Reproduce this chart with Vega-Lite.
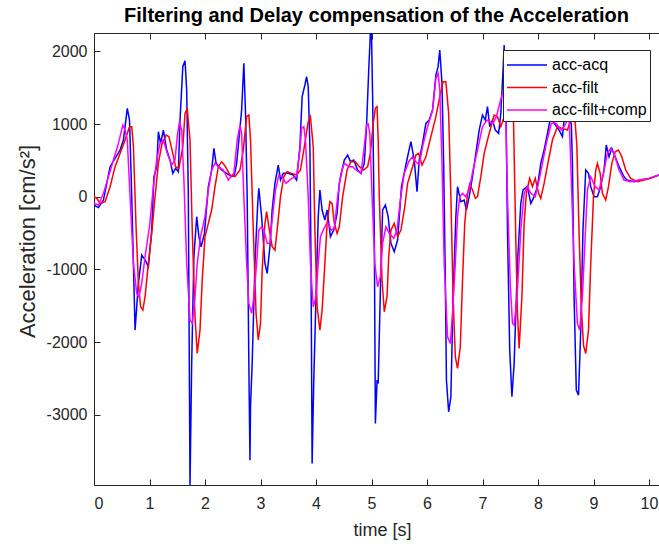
{
"$schema": "https://vega.github.io/schema/vega-lite/v6.json",
"width": 565,
"height": 452,
"autosize": {"type": "none"},
"padding": {"left": 94, "top": 33, "right": 0, "bottom": 62},
"background": "white",
"title": {"text": "Filtering and Delay compensation of the Acceleration", "fontSize": 20, "fontWeight": "bold", "font": "Liberation Sans", "color": "black", "anchor": "middle", "offset": 11, "baseline": "alphabetic", "dy": 20},
"config": {
  "view": {"stroke": "#262626", "strokeWidth": 1},
  "axis": {"grid": false, "domain": false, "tickColor": "#262626", "labelColor": "#262626", "titleColor": "#262626", "labelFont": "Liberation Sans", "titleFont": "Liberation Sans", "labelFontSize": 16, "titleFontSize": 18, "titleFontWeight": "normal", "tickSize": -6, "tickWidth": 1},
  "legend": {"rowPadding": 2.5}
},
"datasets": {"d": [
{"t":0,"v":-115,"s":"acc-acq"},{"t":0.08,"v":-150,"s":"acc-acq"},{"t":0.17,"v":-46,"s":"acc-acq"},{"t":0.29,"v":413,"s":"acc-acq"},{"t":0.38,"v":528,"s":"acc-acq"},{"t":0.47,"v":642,"s":"acc-acq"},{"t":0.53,"v":780,"s":"acc-acq"},{"t":0.6,"v":1216,"s":"acc-acq"},{"t":0.64,"v":1055,"s":"acc-acq"},{"t":0.68,"v":0,"s":"acc-acq"},{"t":0.74,"v":-1835,"s":"acc-acq"},{"t":0.8,"v":-1193,"s":"acc-acq"},{"t":0.86,"v":-803,"s":"acc-acq"},{"t":0.92,"v":-870,"s":"acc-acq"},{"t":0.98,"v":-963,"s":"acc-acq"},{"t":1.04,"v":-459,"s":"acc-acq"},{"t":1.08,"v":275,"s":"acc-acq"},{"t":1.13,"v":413,"s":"acc-acq"},{"t":1.16,"v":894,"s":"acc-acq"},{"t":1.2,"v":734,"s":"acc-acq"},{"t":1.25,"v":917,"s":"acc-acq"},{"t":1.31,"v":642,"s":"acc-acq"},{"t":1.37,"v":505,"s":"acc-acq"},{"t":1.42,"v":321,"s":"acc-acq"},{"t":1.47,"v":390,"s":"acc-acq"},{"t":1.52,"v":344,"s":"acc-acq"},{"t":1.55,"v":1055,"s":"acc-acq"},{"t":1.6,"v":1789,"s":"acc-acq"},{"t":1.64,"v":1871,"s":"acc-acq"},{"t":1.67,"v":1468,"s":"acc-acq"},{"t":1.7,"v":0,"s":"acc-acq"},{"t":1.73,"v":-3966,"s":"acc-acq"},{"t":1.76,"v":-2293,"s":"acc-acq"},{"t":1.8,"v":-826,"s":"acc-acq"},{"t":1.85,"v":-275,"s":"acc-acq"},{"t":1.89,"v":-550,"s":"acc-acq"},{"t":1.93,"v":-688,"s":"acc-acq"},{"t":1.99,"v":-505,"s":"acc-acq"},{"t":2.06,"v":138,"s":"acc-acq"},{"t":2.12,"v":367,"s":"acc-acq"},{"t":2.16,"v":665,"s":"acc-acq"},{"t":2.2,"v":459,"s":"acc-acq"},{"t":2.3,"v":367,"s":"acc-acq"},{"t":2.39,"v":321,"s":"acc-acq"},{"t":2.48,"v":275,"s":"acc-acq"},{"t":2.53,"v":300,"s":"acc-acq"},{"t":2.57,"v":459,"s":"acc-acq"},{"t":2.61,"v":780,"s":"acc-acq"},{"t":2.66,"v":1193,"s":"acc-acq"},{"t":2.7,"v":1835,"s":"acc-acq"},{"t":2.73,"v":1147,"s":"acc-acq"},{"t":2.76,"v":0,"s":"acc-acq"},{"t":2.79,"v":-2293,"s":"acc-acq"},{"t":2.81,"v":-3624,"s":"acc-acq"},{"t":2.82,"v":-2890,"s":"acc-acq"},{"t":2.85,"v":-2293,"s":"acc-acq"},{"t":2.9,"v":-917,"s":"acc-acq"},{"t":2.95,"v":-92,"s":"acc-acq"},{"t":2.97,"v":115,"s":"acc-acq"},{"t":3.02,"v":-275,"s":"acc-acq"},{"t":3.08,"v":-917,"s":"acc-acq"},{"t":3.12,"v":-1055,"s":"acc-acq"},{"t":3.17,"v":-688,"s":"acc-acq"},{"t":3.21,"v":-183,"s":"acc-acq"},{"t":3.26,"v":183,"s":"acc-acq"},{"t":3.32,"v":436,"s":"acc-acq"},{"t":3.36,"v":229,"s":"acc-acq"},{"t":3.41,"v":321,"s":"acc-acq"},{"t":3.5,"v":321,"s":"acc-acq"},{"t":3.59,"v":298,"s":"acc-acq"},{"t":3.65,"v":229,"s":"acc-acq"},{"t":3.71,"v":688,"s":"acc-acq"},{"t":3.75,"v":1376,"s":"acc-acq"},{"t":3.8,"v":1537,"s":"acc-acq"},{"t":3.83,"v":1651,"s":"acc-acq"},{"t":3.86,"v":1514,"s":"acc-acq"},{"t":3.89,"v":688,"s":"acc-acq"},{"t":3.91,"v":-917,"s":"acc-acq"},{"t":3.93,"v":-3670,"s":"acc-acq"},{"t":3.96,"v":-2523,"s":"acc-acq"},{"t":4.0,"v":-1376,"s":"acc-acq"},{"t":4.04,"v":-275,"s":"acc-acq"},{"t":4.07,"v":92,"s":"acc-acq"},{"t":4.11,"v":-183,"s":"acc-acq"},{"t":4.16,"v":-321,"s":"acc-acq"},{"t":4.2,"v":-183,"s":"acc-acq"},{"t":4.26,"v":-550,"s":"acc-acq"},{"t":4.32,"v":-459,"s":"acc-acq"},{"t":4.38,"v":-229,"s":"acc-acq"},{"t":4.42,"v":183,"s":"acc-acq"},{"t":4.47,"v":367,"s":"acc-acq"},{"t":4.51,"v":505,"s":"acc-acq"},{"t":4.57,"v":573,"s":"acc-acq"},{"t":4.62,"v":482,"s":"acc-acq"},{"t":4.68,"v":505,"s":"acc-acq"},{"t":4.75,"v":367,"s":"acc-acq"},{"t":4.81,"v":321,"s":"acc-acq"},{"t":4.87,"v":459,"s":"acc-acq"},{"t":4.91,"v":963,"s":"acc-acq"},{"t":4.95,"v":1743,"s":"acc-acq"},{"t":4.98,"v":2252,"s":"acc-acq"},{"t":5.0,"v":2252,"s":"acc-acq"},{"t":5.02,"v":1376,"s":"acc-acq"},{"t":5.05,"v":-459,"s":"acc-acq"},{"t":5.07,"v":-3119,"s":"acc-acq"},{"t":5.1,"v":-2523,"s":"acc-acq"},{"t":5.12,"v":-2569,"s":"acc-acq"},{"t":5.16,"v":-1284,"s":"acc-acq"},{"t":5.2,"v":-183,"s":"acc-acq"},{"t":5.25,"v":-115,"s":"acc-acq"},{"t":5.3,"v":-275,"s":"acc-acq"},{"t":5.35,"v":-642,"s":"acc-acq"},{"t":5.41,"v":-757,"s":"acc-acq"},{"t":5.47,"v":-596,"s":"acc-acq"},{"t":5.54,"v":138,"s":"acc-acq"},{"t":5.6,"v":367,"s":"acc-acq"},{"t":5.65,"v":550,"s":"acc-acq"},{"t":5.71,"v":757,"s":"acc-acq"},{"t":5.77,"v":505,"s":"acc-acq"},{"t":5.82,"v":69,"s":"acc-acq"},{"t":5.86,"v":505,"s":"acc-acq"},{"t":5.92,"v":734,"s":"acc-acq"},{"t":5.98,"v":1009,"s":"acc-acq"},{"t":6.04,"v":1055,"s":"acc-acq"},{"t":6.1,"v":1193,"s":"acc-acq"},{"t":6.16,"v":1674,"s":"acc-acq"},{"t":6.2,"v":1789,"s":"acc-acq"},{"t":6.23,"v":2018,"s":"acc-acq"},{"t":6.27,"v":1560,"s":"acc-acq"},{"t":6.3,"v":459,"s":"acc-acq"},{"t":6.33,"v":-1147,"s":"acc-acq"},{"t":6.35,"v":-2523,"s":"acc-acq"},{"t":6.39,"v":-2959,"s":"acc-acq"},{"t":6.43,"v":-2752,"s":"acc-acq"},{"t":6.47,"v":-1376,"s":"acc-acq"},{"t":6.52,"v":-275,"s":"acc-acq"},{"t":6.55,"v":138,"s":"acc-acq"},{"t":6.61,"v":-69,"s":"acc-acq"},{"t":6.67,"v":-46,"s":"acc-acq"},{"t":6.71,"v":-183,"s":"acc-acq"},{"t":6.76,"v":0,"s":"acc-acq"},{"t":6.82,"v":275,"s":"acc-acq"},{"t":6.88,"v":596,"s":"acc-acq"},{"t":6.94,"v":917,"s":"acc-acq"},{"t":7.0,"v":1124,"s":"acc-acq"},{"t":7.05,"v":1055,"s":"acc-acq"},{"t":7.09,"v":1239,"s":"acc-acq"},{"t":7.13,"v":963,"s":"acc-acq"},{"t":7.18,"v":1055,"s":"acc-acq"},{"t":7.23,"v":917,"s":"acc-acq"},{"t":7.29,"v":872,"s":"acc-acq"},{"t":7.33,"v":1147,"s":"acc-acq"},{"t":7.37,"v":1743,"s":"acc-acq"},{"t":7.39,"v":2087,"s":"acc-acq"},{"t":7.42,"v":1376,"s":"acc-acq"},{"t":7.45,"v":-459,"s":"acc-acq"},{"t":7.49,"v":-2100,"s":"acc-acq"},{"t":7.53,"v":-2752,"s":"acc-acq"},{"t":7.57,"v":-2293,"s":"acc-acq"},{"t":7.63,"v":-917,"s":"acc-acq"},{"t":7.69,"v":-92,"s":"acc-acq"},{"t":7.73,"v":92,"s":"acc-acq"},{"t":7.81,"v":138,"s":"acc-acq"},{"t":7.87,"v":-92,"s":"acc-acq"},{"t":7.93,"v":0,"s":"acc-acq"},{"t":7.99,"v":138,"s":"acc-acq"},{"t":8.05,"v":459,"s":"acc-acq"},{"t":8.11,"v":642,"s":"acc-acq"},{"t":8.17,"v":872,"s":"acc-acq"},{"t":8.23,"v":1101,"s":"acc-acq"},{"t":8.3,"v":1000,"s":"acc-acq"},{"t":8.38,"v":917,"s":"acc-acq"},{"t":8.44,"v":826,"s":"acc-acq"},{"t":8.47,"v":1055,"s":"acc-acq"},{"t":8.55,"v":1100,"s":"acc-acq"},{"t":8.6,"v":1000,"s":"acc-acq"},{"t":8.62,"v":459,"s":"acc-acq"},{"t":8.65,"v":-1376,"s":"acc-acq"},{"t":8.69,"v":-2660,"s":"acc-acq"},{"t":8.73,"v":-2729,"s":"acc-acq"},{"t":8.77,"v":-1835,"s":"acc-acq"},{"t":8.81,"v":-459,"s":"acc-acq"},{"t":8.86,"v":367,"s":"acc-acq"},{"t":8.91,"v":321,"s":"acc-acq"},{"t":8.95,"v":138,"s":"acc-acq"},{"t":9.01,"v":0,"s":"acc-acq"},{"t":9.07,"v":0,"s":"acc-acq"},{"t":9.13,"v":138,"s":"acc-acq"},{"t":9.19,"v":367,"s":"acc-acq"},{"t":9.23,"v":711,"s":"acc-acq"},{"t":9.28,"v":550,"s":"acc-acq"},{"t":9.33,"v":665,"s":"acc-acq"},{"t":9.39,"v":550,"s":"acc-acq"},{"t":9.46,"v":413,"s":"acc-acq"},{"t":9.55,"v":275,"s":"acc-acq"},{"t":9.6,"v":229,"s":"acc-acq"},{"t":9.73,"v":206,"s":"acc-acq"},{"t":9.85,"v":229,"s":"acc-acq"},{"t":10.0,"v":252,"s":"acc-acq"},{"t":10.18,"v":300,"s":"acc-acq"},
{"t":0,"v":0,"s":"acc-filt"},{"t":0.05,"v":-23,"s":"acc-filt"},{"t":0.11,"v":-92,"s":"acc-filt"},{"t":0.2,"v":-69,"s":"acc-filt"},{"t":0.29,"v":138,"s":"acc-filt"},{"t":0.38,"v":413,"s":"acc-filt"},{"t":0.47,"v":596,"s":"acc-filt"},{"t":0.56,"v":780,"s":"acc-filt"},{"t":0.64,"v":963,"s":"acc-filt"},{"t":0.68,"v":963,"s":"acc-filt"},{"t":0.71,"v":688,"s":"acc-filt"},{"t":0.76,"v":-459,"s":"acc-filt"},{"t":0.8,"v":-1193,"s":"acc-filt"},{"t":0.84,"v":-1514,"s":"acc-filt"},{"t":0.88,"v":-1560,"s":"acc-filt"},{"t":0.92,"v":-1376,"s":"acc-filt"},{"t":0.98,"v":-917,"s":"acc-filt"},{"t":1.04,"v":-505,"s":"acc-filt"},{"t":1.1,"v":0,"s":"acc-filt"},{"t":1.16,"v":459,"s":"acc-filt"},{"t":1.22,"v":711,"s":"acc-filt"},{"t":1.3,"v":849,"s":"acc-filt"},{"t":1.35,"v":826,"s":"acc-filt"},{"t":1.42,"v":596,"s":"acc-filt"},{"t":1.47,"v":413,"s":"acc-filt"},{"t":1.53,"v":390,"s":"acc-filt"},{"t":1.6,"v":688,"s":"acc-filt"},{"t":1.64,"v":1147,"s":"acc-filt"},{"t":1.68,"v":1216,"s":"acc-filt"},{"t":1.73,"v":780,"s":"acc-filt"},{"t":1.77,"v":-459,"s":"acc-filt"},{"t":1.82,"v":-1651,"s":"acc-filt"},{"t":1.86,"v":-2156,"s":"acc-filt"},{"t":1.91,"v":-1835,"s":"acc-filt"},{"t":1.95,"v":-1147,"s":"acc-filt"},{"t":2.0,"v":-550,"s":"acc-filt"},{"t":2.06,"v":-367,"s":"acc-filt"},{"t":2.12,"v":-183,"s":"acc-filt"},{"t":2.18,"v":138,"s":"acc-filt"},{"t":2.24,"v":413,"s":"acc-filt"},{"t":2.3,"v":482,"s":"acc-filt"},{"t":2.37,"v":413,"s":"acc-filt"},{"t":2.45,"v":298,"s":"acc-filt"},{"t":2.54,"v":275,"s":"acc-filt"},{"t":2.63,"v":367,"s":"acc-filt"},{"t":2.69,"v":642,"s":"acc-filt"},{"t":2.75,"v":1101,"s":"acc-filt"},{"t":2.79,"v":1124,"s":"acc-filt"},{"t":2.82,"v":780,"s":"acc-filt"},{"t":2.87,"v":-459,"s":"acc-filt"},{"t":2.92,"v":-1605,"s":"acc-filt"},{"t":2.96,"v":-1972,"s":"acc-filt"},{"t":3.0,"v":-1743,"s":"acc-filt"},{"t":3.03,"v":-1009,"s":"acc-filt"},{"t":3.08,"v":-367,"s":"acc-filt"},{"t":3.11,"v":-206,"s":"acc-filt"},{"t":3.15,"v":-413,"s":"acc-filt"},{"t":3.21,"v":-688,"s":"acc-filt"},{"t":3.26,"v":-734,"s":"acc-filt"},{"t":3.3,"v":-459,"s":"acc-filt"},{"t":3.36,"v":0,"s":"acc-filt"},{"t":3.42,"v":275,"s":"acc-filt"},{"t":3.48,"v":344,"s":"acc-filt"},{"t":3.56,"v":321,"s":"acc-filt"},{"t":3.65,"v":298,"s":"acc-filt"},{"t":3.72,"v":367,"s":"acc-filt"},{"t":3.79,"v":688,"s":"acc-filt"},{"t":3.86,"v":1032,"s":"acc-filt"},{"t":3.9,"v":1101,"s":"acc-filt"},{"t":3.95,"v":688,"s":"acc-filt"},{"t":3.98,"v":-459,"s":"acc-filt"},{"t":4.02,"v":-1514,"s":"acc-filt"},{"t":4.07,"v":-1835,"s":"acc-filt"},{"t":4.11,"v":-1560,"s":"acc-filt"},{"t":4.16,"v":-917,"s":"acc-filt"},{"t":4.2,"v":-367,"s":"acc-filt"},{"t":4.25,"v":-69,"s":"acc-filt"},{"t":4.29,"v":-92,"s":"acc-filt"},{"t":4.33,"v":-367,"s":"acc-filt"},{"t":4.38,"v":-505,"s":"acc-filt"},{"t":4.42,"v":-413,"s":"acc-filt"},{"t":4.48,"v":0,"s":"acc-filt"},{"t":4.56,"v":367,"s":"acc-filt"},{"t":4.63,"v":482,"s":"acc-filt"},{"t":4.71,"v":482,"s":"acc-filt"},{"t":4.78,"v":413,"s":"acc-filt"},{"t":4.86,"v":367,"s":"acc-filt"},{"t":4.93,"v":413,"s":"acc-filt"},{"t":4.98,"v":600,"s":"acc-filt"},{"t":5.03,"v":1000,"s":"acc-filt"},{"t":5.07,"v":1220,"s":"acc-filt"},{"t":5.1,"v":1239,"s":"acc-filt"},{"t":5.12,"v":800,"s":"acc-filt"},{"t":5.14,"v":0,"s":"acc-filt"},{"t":5.19,"v":-1147,"s":"acc-filt"},{"t":5.23,"v":-1583,"s":"acc-filt"},{"t":5.28,"v":-1376,"s":"acc-filt"},{"t":5.31,"v":-826,"s":"acc-filt"},{"t":5.35,"v":-459,"s":"acc-filt"},{"t":5.41,"v":-367,"s":"acc-filt"},{"t":5.47,"v":-550,"s":"acc-filt"},{"t":5.53,"v":-459,"s":"acc-filt"},{"t":5.6,"v":-138,"s":"acc-filt"},{"t":5.65,"v":183,"s":"acc-filt"},{"t":5.74,"v":413,"s":"acc-filt"},{"t":5.8,"v":573,"s":"acc-filt"},{"t":5.85,"v":596,"s":"acc-filt"},{"t":5.91,"v":436,"s":"acc-filt"},{"t":5.98,"v":550,"s":"acc-filt"},{"t":6.07,"v":826,"s":"acc-filt"},{"t":6.16,"v":1101,"s":"acc-filt"},{"t":6.23,"v":1376,"s":"acc-filt"},{"t":6.29,"v":1583,"s":"acc-filt"},{"t":6.34,"v":1583,"s":"acc-filt"},{"t":6.39,"v":1147,"s":"acc-filt"},{"t":6.43,"v":0,"s":"acc-filt"},{"t":6.47,"v":-1376,"s":"acc-filt"},{"t":6.51,"v":-2202,"s":"acc-filt"},{"t":6.55,"v":-2362,"s":"acc-filt"},{"t":6.6,"v":-2064,"s":"acc-filt"},{"t":6.64,"v":-1147,"s":"acc-filt"},{"t":6.68,"v":-367,"s":"acc-filt"},{"t":6.73,"v":46,"s":"acc-filt"},{"t":6.77,"v":174,"s":"acc-filt"},{"t":6.82,"v":92,"s":"acc-filt"},{"t":6.87,"v":-23,"s":"acc-filt"},{"t":6.91,"v":0,"s":"acc-filt"},{"t":6.97,"v":275,"s":"acc-filt"},{"t":7.03,"v":596,"s":"acc-filt"},{"t":7.12,"v":872,"s":"acc-filt"},{"t":7.21,"v":1124,"s":"acc-filt"},{"t":7.27,"v":1101,"s":"acc-filt"},{"t":7.33,"v":963,"s":"acc-filt"},{"t":7.39,"v":1101,"s":"acc-filt"},{"t":7.44,"v":1300,"s":"acc-filt"},{"t":7.49,"v":1560,"s":"acc-filt"},{"t":7.52,"v":1590,"s":"acc-filt"},{"t":7.56,"v":1000,"s":"acc-filt"},{"t":7.6,"v":-600,"s":"acc-filt"},{"t":7.63,"v":-1600,"s":"acc-filt"},{"t":7.66,"v":-2087,"s":"acc-filt"},{"t":7.71,"v":-1376,"s":"acc-filt"},{"t":7.75,"v":-367,"s":"acc-filt"},{"t":7.79,"v":46,"s":"acc-filt"},{"t":7.85,"v":252,"s":"acc-filt"},{"t":7.9,"v":138,"s":"acc-filt"},{"t":7.95,"v":252,"s":"acc-filt"},{"t":8.01,"v":46,"s":"acc-filt"},{"t":8.05,"v":-23,"s":"acc-filt"},{"t":8.11,"v":183,"s":"acc-filt"},{"t":8.19,"v":505,"s":"acc-filt"},{"t":8.26,"v":780,"s":"acc-filt"},{"t":8.35,"v":963,"s":"acc-filt"},{"t":8.44,"v":940,"s":"acc-filt"},{"t":8.53,"v":917,"s":"acc-filt"},{"t":8.6,"v":1080,"s":"acc-filt"},{"t":8.66,"v":1120,"s":"acc-filt"},{"t":8.7,"v":700,"s":"acc-filt"},{"t":8.74,"v":-500,"s":"acc-filt"},{"t":8.78,"v":-1500,"s":"acc-filt"},{"t":8.82,"v":-2050,"s":"acc-filt"},{"t":8.86,"v":-2156,"s":"acc-filt"},{"t":8.91,"v":-1835,"s":"acc-filt"},{"t":8.95,"v":-917,"s":"acc-filt"},{"t":9.0,"v":0,"s":"acc-filt"},{"t":9.04,"v":367,"s":"acc-filt"},{"t":9.07,"v":459,"s":"acc-filt"},{"t":9.12,"v":321,"s":"acc-filt"},{"t":9.16,"v":46,"s":"acc-filt"},{"t":9.22,"v":-46,"s":"acc-filt"},{"t":9.27,"v":138,"s":"acc-filt"},{"t":9.33,"v":459,"s":"acc-filt"},{"t":9.39,"v":619,"s":"acc-filt"},{"t":9.45,"v":642,"s":"acc-filt"},{"t":9.51,"v":550,"s":"acc-filt"},{"t":9.58,"v":367,"s":"acc-filt"},{"t":9.67,"v":252,"s":"acc-filt"},{"t":9.79,"v":206,"s":"acc-filt"},{"t":9.91,"v":229,"s":"acc-filt"},{"t":10.03,"v":252,"s":"acc-filt"},{"t":10.18,"v":300,"s":"acc-filt"},
{"t":0,"v":-92,"s":"acc-filt+comp"},{"t":0.08,"v":-115,"s":"acc-filt+comp"},{"t":0.17,"v":46,"s":"acc-filt+comp"},{"t":0.26,"v":275,"s":"acc-filt+comp"},{"t":0.35,"v":505,"s":"acc-filt+comp"},{"t":0.44,"v":734,"s":"acc-filt+comp"},{"t":0.52,"v":986,"s":"acc-filt+comp"},{"t":0.56,"v":917,"s":"acc-filt+comp"},{"t":0.6,"v":780,"s":"acc-filt+comp"},{"t":0.65,"v":0,"s":"acc-filt+comp"},{"t":0.71,"v":-917,"s":"acc-filt+comp"},{"t":0.77,"v":-1330,"s":"acc-filt+comp"},{"t":0.81,"v":-1376,"s":"acc-filt+comp"},{"t":0.86,"v":-1193,"s":"acc-filt+comp"},{"t":0.92,"v":-826,"s":"acc-filt+comp"},{"t":1.0,"v":-413,"s":"acc-filt+comp"},{"t":1.07,"v":138,"s":"acc-filt+comp"},{"t":1.13,"v":505,"s":"acc-filt+comp"},{"t":1.19,"v":734,"s":"acc-filt+comp"},{"t":1.25,"v":780,"s":"acc-filt+comp"},{"t":1.32,"v":596,"s":"acc-filt+comp"},{"t":1.4,"v":436,"s":"acc-filt+comp"},{"t":1.46,"v":505,"s":"acc-filt+comp"},{"t":1.5,"v":826,"s":"acc-filt+comp"},{"t":1.54,"v":1032,"s":"acc-filt+comp"},{"t":1.58,"v":917,"s":"acc-filt+comp"},{"t":1.62,"v":229,"s":"acc-filt+comp"},{"t":1.67,"v":-917,"s":"acc-filt+comp"},{"t":1.73,"v":-1697,"s":"acc-filt+comp"},{"t":1.77,"v":-1743,"s":"acc-filt+comp"},{"t":1.82,"v":-1376,"s":"acc-filt+comp"},{"t":1.86,"v":-917,"s":"acc-filt+comp"},{"t":1.92,"v":-550,"s":"acc-filt+comp"},{"t":2.0,"v":-275,"s":"acc-filt+comp"},{"t":2.06,"v":92,"s":"acc-filt+comp"},{"t":2.12,"v":367,"s":"acc-filt+comp"},{"t":2.18,"v":459,"s":"acc-filt+comp"},{"t":2.24,"v":413,"s":"acc-filt+comp"},{"t":2.33,"v":367,"s":"acc-filt+comp"},{"t":2.42,"v":229,"s":"acc-filt+comp"},{"t":2.48,"v":290,"s":"acc-filt+comp"},{"t":2.52,"v":321,"s":"acc-filt+comp"},{"t":2.58,"v":780,"s":"acc-filt+comp"},{"t":2.63,"v":986,"s":"acc-filt+comp"},{"t":2.66,"v":872,"s":"acc-filt+comp"},{"t":2.7,"v":0,"s":"acc-filt+comp"},{"t":2.75,"v":-917,"s":"acc-filt+comp"},{"t":2.79,"v":-1468,"s":"acc-filt+comp"},{"t":2.84,"v":-1605,"s":"acc-filt+comp"},{"t":2.88,"v":-1376,"s":"acc-filt+comp"},{"t":2.93,"v":-917,"s":"acc-filt+comp"},{"t":2.97,"v":-459,"s":"acc-filt+comp"},{"t":3.02,"v":-413,"s":"acc-filt+comp"},{"t":3.06,"v":-459,"s":"acc-filt+comp"},{"t":3.12,"v":-642,"s":"acc-filt+comp"},{"t":3.17,"v":-642,"s":"acc-filt+comp"},{"t":3.21,"v":-321,"s":"acc-filt+comp"},{"t":3.27,"v":92,"s":"acc-filt+comp"},{"t":3.33,"v":298,"s":"acc-filt+comp"},{"t":3.39,"v":275,"s":"acc-filt+comp"},{"t":3.46,"v":183,"s":"acc-filt+comp"},{"t":3.56,"v":252,"s":"acc-filt+comp"},{"t":3.65,"v":275,"s":"acc-filt+comp"},{"t":3.71,"v":642,"s":"acc-filt+comp"},{"t":3.74,"v":940,"s":"acc-filt+comp"},{"t":3.78,"v":963,"s":"acc-filt+comp"},{"t":3.81,"v":780,"s":"acc-filt+comp"},{"t":3.86,"v":0,"s":"acc-filt+comp"},{"t":3.9,"v":-917,"s":"acc-filt+comp"},{"t":3.95,"v":-1514,"s":"acc-filt+comp"},{"t":4.0,"v":-1376,"s":"acc-filt+comp"},{"t":4.04,"v":-917,"s":"acc-filt+comp"},{"t":4.08,"v":-550,"s":"acc-filt+comp"},{"t":4.13,"v":-459,"s":"acc-filt+comp"},{"t":4.19,"v":-367,"s":"acc-filt+comp"},{"t":4.23,"v":-367,"s":"acc-filt+comp"},{"t":4.27,"v":-459,"s":"acc-filt+comp"},{"t":4.33,"v":-436,"s":"acc-filt+comp"},{"t":4.39,"v":0,"s":"acc-filt+comp"},{"t":4.45,"v":321,"s":"acc-filt+comp"},{"t":4.51,"v":459,"s":"acc-filt+comp"},{"t":4.59,"v":413,"s":"acc-filt+comp"},{"t":4.66,"v":413,"s":"acc-filt+comp"},{"t":4.72,"v":367,"s":"acc-filt+comp"},{"t":4.81,"v":321,"s":"acc-filt+comp"},{"t":4.87,"v":688,"s":"acc-filt+comp"},{"t":4.91,"v":986,"s":"acc-filt+comp"},{"t":4.94,"v":1000,"s":"acc-filt+comp"},{"t":4.97,"v":870,"s":"acc-filt+comp"},{"t":5.01,"v":0,"s":"acc-filt+comp"},{"t":5.06,"v":-917,"s":"acc-filt+comp"},{"t":5.11,"v":-1239,"s":"acc-filt+comp"},{"t":5.16,"v":-1101,"s":"acc-filt+comp"},{"t":5.2,"v":-642,"s":"acc-filt+comp"},{"t":5.26,"v":-413,"s":"acc-filt+comp"},{"t":5.32,"v":-505,"s":"acc-filt+comp"},{"t":5.4,"v":-573,"s":"acc-filt+comp"},{"t":5.46,"v":-459,"s":"acc-filt+comp"},{"t":5.52,"v":-46,"s":"acc-filt+comp"},{"t":5.59,"v":321,"s":"acc-filt+comp"},{"t":5.67,"v":482,"s":"acc-filt+comp"},{"t":5.74,"v":550,"s":"acc-filt+comp"},{"t":5.8,"v":482,"s":"acc-filt+comp"},{"t":5.86,"v":436,"s":"acc-filt+comp"},{"t":5.92,"v":688,"s":"acc-filt+comp"},{"t":6.01,"v":963,"s":"acc-filt+comp"},{"t":6.1,"v":1193,"s":"acc-filt+comp"},{"t":6.16,"v":1628,"s":"acc-filt+comp"},{"t":6.2,"v":1697,"s":"acc-filt+comp"},{"t":6.23,"v":1468,"s":"acc-filt+comp"},{"t":6.27,"v":459,"s":"acc-filt+comp"},{"t":6.31,"v":-917,"s":"acc-filt+comp"},{"t":6.37,"v":-1927,"s":"acc-filt+comp"},{"t":6.42,"v":-2018,"s":"acc-filt+comp"},{"t":6.46,"v":-1605,"s":"acc-filt+comp"},{"t":6.51,"v":-917,"s":"acc-filt+comp"},{"t":6.55,"v":-275,"s":"acc-filt+comp"},{"t":6.59,"v":0,"s":"acc-filt+comp"},{"t":6.64,"v":46,"s":"acc-filt+comp"},{"t":6.7,"v":0,"s":"acc-filt+comp"},{"t":6.76,"v":92,"s":"acc-filt+comp"},{"t":6.83,"v":367,"s":"acc-filt+comp"},{"t":6.91,"v":642,"s":"acc-filt+comp"},{"t":7.0,"v":963,"s":"acc-filt+comp"},{"t":7.08,"v":1055,"s":"acc-filt+comp"},{"t":7.13,"v":1032,"s":"acc-filt+comp"},{"t":7.19,"v":1009,"s":"acc-filt+comp"},{"t":7.25,"v":1101,"s":"acc-filt+comp"},{"t":7.31,"v":1284,"s":"acc-filt+comp"},{"t":7.36,"v":1420,"s":"acc-filt+comp"},{"t":7.39,"v":1452,"s":"acc-filt+comp"},{"t":7.42,"v":1100,"s":"acc-filt+comp"},{"t":7.45,"v":0,"s":"acc-filt+comp"},{"t":7.5,"v":-1200,"s":"acc-filt+comp"},{"t":7.54,"v":-1743,"s":"acc-filt+comp"},{"t":7.57,"v":-1766,"s":"acc-filt+comp"},{"t":7.63,"v":-1284,"s":"acc-filt+comp"},{"t":7.69,"v":-459,"s":"acc-filt+comp"},{"t":7.75,"v":46,"s":"acc-filt+comp"},{"t":7.81,"v":138,"s":"acc-filt+comp"},{"t":7.87,"v":46,"s":"acc-filt+comp"},{"t":7.95,"v":0,"s":"acc-filt+comp"},{"t":8.02,"v":229,"s":"acc-filt+comp"},{"t":8.08,"v":459,"s":"acc-filt+comp"},{"t":8.15,"v":734,"s":"acc-filt+comp"},{"t":8.24,"v":1009,"s":"acc-filt+comp"},{"t":8.32,"v":1009,"s":"acc-filt+comp"},{"t":8.42,"v":917,"s":"acc-filt+comp"},{"t":8.47,"v":963,"s":"acc-filt+comp"},{"t":8.53,"v":1055,"s":"acc-filt+comp"},{"t":8.56,"v":1100,"s":"acc-filt+comp"},{"t":8.59,"v":459,"s":"acc-filt+comp"},{"t":8.65,"v":-917,"s":"acc-filt+comp"},{"t":8.71,"v":-1743,"s":"acc-filt+comp"},{"t":8.75,"v":-1835,"s":"acc-filt+comp"},{"t":8.8,"v":-1376,"s":"acc-filt+comp"},{"t":8.85,"v":-550,"s":"acc-filt+comp"},{"t":8.89,"v":92,"s":"acc-filt+comp"},{"t":8.95,"v":275,"s":"acc-filt+comp"},{"t":9.03,"v":138,"s":"acc-filt+comp"},{"t":9.1,"v":92,"s":"acc-filt+comp"},{"t":9.18,"v":321,"s":"acc-filt+comp"},{"t":9.25,"v":596,"s":"acc-filt+comp"},{"t":9.31,"v":665,"s":"acc-filt+comp"},{"t":9.37,"v":596,"s":"acc-filt+comp"},{"t":9.46,"v":367,"s":"acc-filt+comp"},{"t":9.55,"v":229,"s":"acc-filt+comp"},{"t":9.67,"v":206,"s":"acc-filt+comp"},{"t":9.82,"v":229,"s":"acc-filt+comp"},{"t":10.0,"v":252,"s":"acc-filt+comp"},{"t":10.18,"v":300,"s":"acc-filt+comp"}
]},
"data": {"name": "d"},
"layer": [
  {
    "mark": {"type": "line", "strokeWidth": 1.5, "clip": true},
    "encoding": {
      "x": {"field": "t", "type": "quantitative", "scale": {"domain": [0, 10.18], "nice": false, "zero": false},
            "axis": {"orient": "bottom", "values": [0,1,2,3,4,5,6,7,8,9,10], "labelExpr": "'' + datum.value", "labelPadding": 16, "title": "time [s]", "titleX": 288, "titleY": 45, "titleBaseline": "middle", "titleAlign": "center"}},
      "y": {"field": "v", "type": "quantitative", "scale": {"domain": [-3966, 2252], "nice": false, "zero": false},
            "axis": {"orient": "left", "values": [-3000,-2000,-1000,0,1000,2000], "labelExpr": "'' + datum.value", "labelPadding": 13, "title": "Acceleration [cm/s²]", "titleFontSize": 22, "titleX": -67, "titleY": 208, "titleAngle": 270, "titleBaseline": "middle", "titleAlign": "center"}},
      "color": {"field": "s", "type": "nominal", "sort": ["acc-acq", "acc-filt", "acc-filt+comp"],
                "scale": {"domain": ["acc-acq", "acc-filt", "acc-filt+comp"], "range": ["#0000ff", "#ff0000", "#ff00ff"]},
                "legend": {"title": null, "orient": "none", "legendX": 409, "legendY": 17, "fillColor": "white", "strokeColor": "#262626", "padding": 3, "symbolType": "M-1,0H2.636", "symbolSize": 484, "symbolStrokeWidth": 1.5, "labelFontSize": 16, "labelFont": "Liberation Sans", "labelColor": "black", "rowPadding": 2.5, "labelOffset": 22}}
    }
  },
  {
    "mark": {"type": "rule", "strokeOpacity": 0},
    "encoding": {
      "x": {"field": "t", "type": "quantitative", "axis": {"orient": "top", "values": [0,1,2,3,4,5,6,7,8,9,10], "labels": false, "title": null}}
    }
  }
],
"resolve": {"axis": {"x": "independent"}}
}
